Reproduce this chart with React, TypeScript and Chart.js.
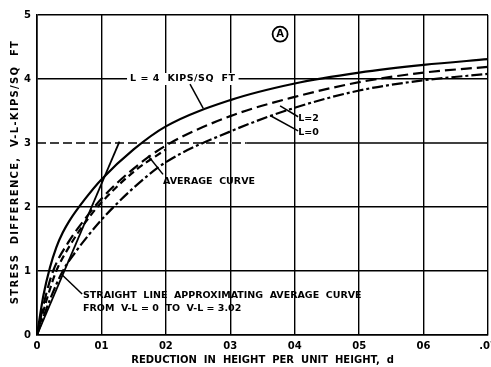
import React, { useEffect, useRef } from "react";
import { Chart, registerables } from "chart.js";

Chart.register(...registerables);

// ---------- data ----------
const xTickValues = [0, 0.01, 0.02, 0.03, 0.04, 0.05, 0.06, 0.07];
const xTickLabels = ["0", "01", "02", "03", "04", "05", "06", ".07"];
const yTickLabels = ["0", "1", "2", "3", "4", "5"];

const xTitle = "REDUCTION  IN  HEIGHT  PER  UNIT  HEIGHT,  d";
const yTitle = "STRESS  DIFFERENCE,  V-L-KIPS/SQ  FT";

const dL4 = [0, 0.001, 0.002, 0.003, 0.004, 0.005, 0.0075, 0.01, 0.015, 0.02, 0.03, 0.04, 0.05, 0.06, 0.07];
const vL4 = [0, 0.62, 1.05, 1.37, 1.6, 1.78, 2.13, 2.43, 2.9, 3.26, 3.67, 3.93, 4.1, 4.22, 4.31];

const dL2 = [0, 0.0012, 0.0025, 0.005, 0.0075, 0.01, 0.015, 0.02, 0.03, 0.04, 0.05, 0.06, 0.07];
const vL2 = [0, 0.55, 1.0, 1.47, 1.82, 2.13, 2.6, 2.96, 3.42, 3.72, 3.95, 4.1, 4.19];

const dL0 = [0, 0.002, 0.004, 0.006, 0.008, 0.01, 0.015, 0.02, 0.03, 0.04, 0.05, 0.06, 0.07];
const vL0 = [0, 0.55, 1.0, 1.3, 1.56, 1.8, 2.3, 2.7, 3.18, 3.55, 3.82, 3.98, 4.08];

const dAvg = [0, 0.0015, 0.003, 0.005, 0.0075, 0.01, 0.015, 0.02];
const vAvg = [0, 0.55, 1.0, 1.38, 1.76, 2.07, 2.55, 2.9];

const dStraight = [0, 0.0128];
const vStraight = [0, 3.02];

// y = 3 reference line: dashed part then solid part
const dRefDashed = [0, 0.0325];
const dRefSolid = [0.0325, 0.07];
const vRef = [3, 3];

const pts = (xs: number[], ys: number[]) => xs.map((x, i) => ({ x, y: ys[i] }));

// annotations in data units
const labelL4 = { text: "L = 4  KIPS/SQ  FT", x: 0.01444, y: 4 };
const ptrL4 = [[0.02375, 3.92], [0.0258, 3.54]];
const labelAvg = { text: "AVERAGE  CURVE", x: 0.01956, y: 2.4 };
const ptrAvg = [[0.01956, 2.51], [0.01724, 2.8]];
const labelL2 = { text: "L=2", x: 0.04053, y: 3.38 };
const ptrL2 = [[0.03773, 3.58], [0.04053, 3.41]];
const labelL0 = { text: "L=0", x: 0.04053, y: 3.16 };
const ptrL0 = [[0.03618, 3.43], [0.04053, 3.19]];
const labelStraight1 = { text: "STRAIGHT  LINE  APPROXIMATING  AVERAGE  CURVE", x: 0.00714, y: 0.61 };
const labelStraight2 = { text: "FROM  V-L = 0  TO  V-L = 3.02", x: 0.00714, y: 0.42 };
const ptrStraight = [[0.007, 0.64], [0.004, 0.93]];
const circleA = { text: "A", x: 0.03773, y: 4.7 };

const FONT = "'DejaVu Sans', sans-serif";

const annotate = {
  id: "annotate",
  afterDraw(chart: any) {
    const { ctx, chartArea } = chart;
    const xs = chart.scales.x;
    const ys = chart.scales.y;
    const px = (v: number) => xs.getPixelForValue(v);
    const py = (v: number) => ys.getPixelForValue(v);
    ctx.save();
    ctx.fillStyle = "#000";
    ctx.strokeStyle = "#000";
    ctx.textBaseline = "middle";
    ctx.textAlign = "left";

    const text = (l: any, bg = false, spacing = "0px") => {
      ctx.font = `bold 9.5px ${FONT}`;
      (ctx as any).letterSpacing = spacing;
      if (bg) {
        const w = ctx.measureText(l.text).width;
        ctx.fillStyle = "#fff";
        ctx.fillRect(px(l.x) - 3, py(l.y) - 6, w + 6, 12);
        ctx.fillStyle = "#000";
      }
      ctx.fillText(l.text, px(l.x), py(l.y));
      (ctx as any).letterSpacing = "0px";
    };
    const line = (p: number[][]) => {
      ctx.lineWidth = 1.5;
      ctx.setLineDash([]);
      ctx.beginPath();
      ctx.moveTo(px(p[0][0]), py(p[0][1]));
      ctx.lineTo(px(p[1][0]), py(p[1][1]));
      ctx.stroke();
    };

    text(labelL4, true, "0.5px");
    line(ptrL4);
    text(labelAvg);
    line(ptrAvg);
    text(labelL2);
    line(ptrL2);
    text(labelL0);
    line(ptrL0);
    text(labelStraight1);
    text(labelStraight2);
    line(ptrStraight);

    // circled A
    const cx = px(circleA.x);
    const cy = py(circleA.y);
    ctx.lineWidth = 1.8;
    ctx.beginPath();
    ctx.arc(cx, cy, 7.5, 0, Math.PI * 2);
    ctx.stroke();
    ctx.font = `bold 10px ${FONT}`;
    ctx.textAlign = "center";
    ctx.fillText(circleA.text, cx, cy + 0.5);

    // y axis title
    ctx.save();
    ctx.translate(15, (chartArea.top + chartArea.bottom) / 2 - 3);
    ctx.rotate(-Math.PI / 2);
    ctx.font = `bold 10px ${FONT}`;
    (ctx as any).letterSpacing = "1.3px";
    ctx.textAlign = "center";
    ctx.fillText(yTitle, 0, 0);
    ctx.restore();

    ctx.restore();
  },
};

export default function App() {
  const ref = useRef<HTMLCanvasElement>(null);

  useEffect(() => {
    const canvas = ref.current!;
    const chart = new Chart(canvas, {
      type: "line",
      data: {
        datasets: [
          {
            label: "ref3dashed",
            data: pts(dRefDashed, vRef),
            borderColor: "#000",
            borderWidth: 1.4,
            borderDash: [9, 4],
            pointRadius: 0,
          },
          {
            label: "ref3solid",
            data: pts(dRefSolid, vRef),
            borderColor: "#000",
            borderWidth: 1.4,
            pointRadius: 0,
          },
          {
            label: "L=4",
            data: pts(dL4, vL4),
            borderColor: "#000",
            borderWidth: 2.2,
            pointRadius: 0,
            cubicInterpolationMode: "monotone",
          },
          {
            label: "L=2",
            data: pts(dL2, vL2),
            borderColor: "#000",
            borderWidth: 2.2,
            borderDash: [11, 5],
            pointRadius: 0,
            cubicInterpolationMode: "monotone",
          },
          {
            label: "L=0",
            data: pts(dL0, vL0),
            borderColor: "#000",
            borderWidth: 2.2,
            borderDash: [11, 3, 3, 3],
            pointRadius: 0,
            cubicInterpolationMode: "monotone",
          },
          {
            label: "Average",
            data: pts(dAvg, vAvg),
            borderColor: "#000",
            borderWidth: 2.2,
            borderDash: [7, 4],
            pointRadius: 0,
            cubicInterpolationMode: "monotone",
          },
          {
            label: "Straight",
            data: pts(dStraight, vStraight),
            borderColor: "#000",
            borderWidth: 1.8,
            pointRadius: 0,
          },
        ],
      },
      options: {
        responsive: false,
        animation: false,
        events: [],
        layout: { padding: { top: 15, right: 3, left: 0, bottom: 0 } },
        plugins: {
          legend: { display: false },
          tooltip: { enabled: false },
        },
        scales: {
          x: {
            type: "linear",
            min: 0,
            max: 0.07,
            afterBuildTicks: (s: any) => {
              s.ticks = xTickValues.map((v) => ({ value: v }));
            },
            afterFit: (s: any) => {
              s.height = 32;
              s.paddingLeft = 0;
              s.paddingRight = 0;
            },
            ticks: {
              autoSkip: false,
              maxRotation: 0,
              padding: 5,
              color: "#000",
              font: { family: FONT, size: 10, weight: "bold" },
              callback: (_v: any, i: number) => xTickLabels[i],
            },
            grid: { color: "#000", lineWidth: 1.4, drawTicks: false },
            border: { color: "#000", width: 1.6 },
            title: {
              display: true,
              text: xTitle,
              color: "#000",
              font: { family: FONT, size: 10, weight: "bold" },
              padding: { top: 0, bottom: 1 },
            },
          },
          y: {
            type: "linear",
            min: 0,
            max: 5,
            afterBuildTicks: (s: any) => {
              s.ticks = yTickLabels.map((_t, i) => ({ value: i }));
            },
            afterFit: (s: any) => {
              s.width = 37;
              s.paddingTop = 0;
              s.paddingBottom = 0;
            },
            ticks: {
              padding: 6,
              color: "#000",
              font: { family: FONT, size: 10, weight: "bold" },
              callback: (_v: any, i: number) => yTickLabels[i],
            },
            grid: {
              color: (c: any) => (c.tick && c.tick.value === 3 ? "rgba(0,0,0,0)" : "#000"),
              lineWidth: 1.4,
              drawTicks: false,
            },
            border: { color: "#000", width: 1.6 },
            title: { display: false },
          },
        },
      },
      plugins: [annotate],
    } as any);
    return () => chart.destroy();
  }, []);

  return (
    <div style={{ position: "fixed", left: 0, top: 0, width: 491, height: 367, background: "#fff" }}>
      <canvas ref={ref} width={491} height={367} style={{ width: 491, height: 367, display: "block" }} />
    </div>
  );
}
